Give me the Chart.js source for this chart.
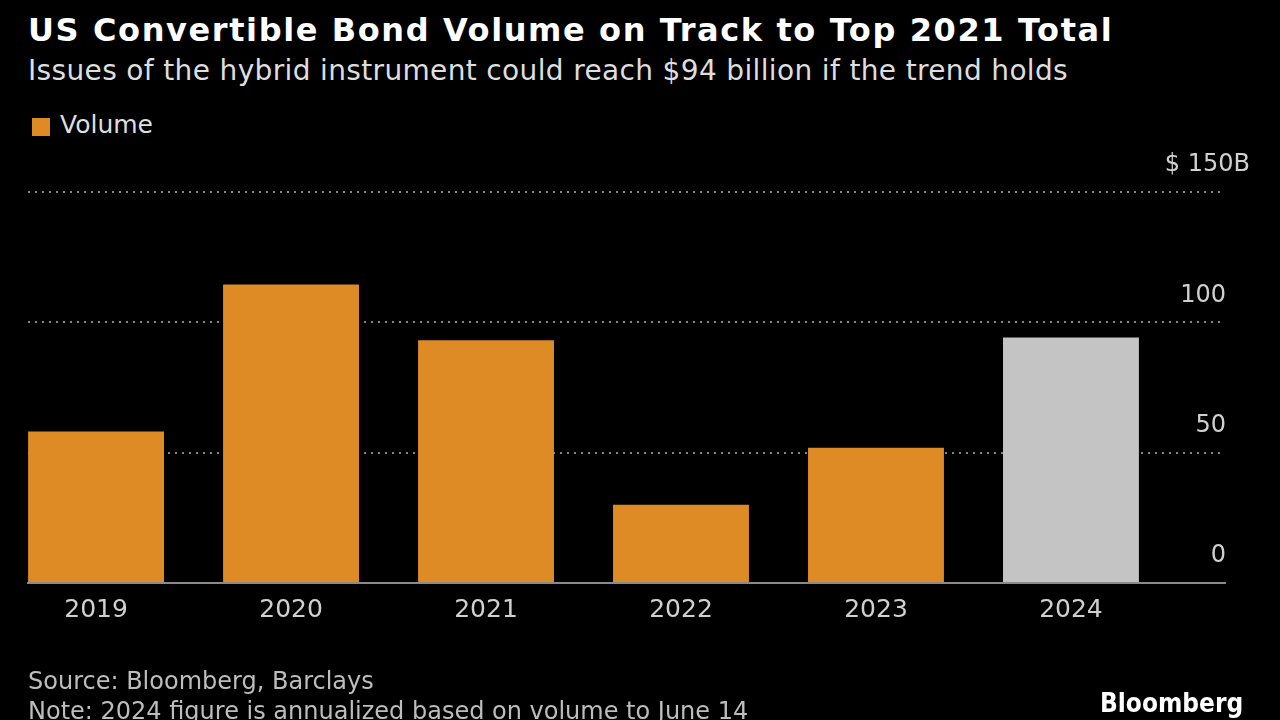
<!DOCTYPE html>
<html>
<head>
<meta charset="utf-8">
<script src="https://cdn.jsdelivr.net/npm/chart.js@4.4.1/dist/chart.umd.min.js"></script>
<style>
  html, body { margin: 0; padding: 0; background: #000; }
  #wrap { position: relative; width: 1280px; height: 720px; overflow: hidden; background: #000;
    font-family: "DejaVu Sans", sans-serif; line-height: 1; }
  #chart { position: absolute; left: 0; top: 0; }
  .title { position: absolute; left: 28px; top: 14px; color: #fff; font-size: 32px; font-weight: bold; letter-spacing: 1.6px; white-space: nowrap; }
  .subtitle { position: absolute; left: 28px; top: 57px; color: #dedede; font-size: 28px; letter-spacing: 0.35px; white-space: nowrap; }
  .legend { position: absolute; left: 60px; top: 112px; color: #dedede; font-size: 25px; white-space: nowrap; }
  .legend-box { position: absolute; left: 32px; top: 118px; width: 18px; height: 18px; background: #DE8B26; }
  .foot { position: absolute; left: 28px; color: #bdbdbd; font-size: 24px; white-space: nowrap; }
  .brand { position: absolute; left: 1100px; top: 690px; color: #fff; font-size: 26px; font-weight: bold;
    font-family: "DejaVu Sans Condensed", "DejaVu Sans", sans-serif; }
</style>
</head>
<body>
<div id="wrap">
  <div class="title">US Convertible Bond Volume on Track to Top 2021 Total</div>
  <div class="subtitle">Issues of the hybrid instrument could reach $94 billion if the trend holds</div>
  <div class="legend-box"></div>
  <div class="legend">Volume</div>
  <canvas id="chart" width="1280" height="720"></canvas>
  <div class="foot" style="top:669px">Source: Bloomberg, Barclays</div>
  <div class="foot" style="top:699px">Note: 2024 figure is annualized based on volume to June 14</div>
  <div class="brand">Bloomberg</div>
</div>
<script>
// values, $ billions
const years = ['2019', '2020', '2021', '2022', '2023', '2024'];
const volumes = [58.1, 114.5, 93.1, 30.0, 51.9, 94.2];
const barColors = ['#DE8B26', '#DE8B26', '#DE8B26', '#DE8B26', '#DE8B26', '#C4C4C4'];
const yTicks = [0, 50, 100, 150];

const FONT = "'DejaVu Sans', sans-serif";

new Chart(document.getElementById('chart'), {
  type: 'bar',
  data: {
    datasets: [{
      label: 'Volume',
      data: volumes.map((v, i) => ({ x: i, y: v })),
      backgroundColor: barColors,
      borderWidth: 0,
      barPercentage: 1,
      categoryPercentage: 0.697
    }]
  },
  options: {
    responsive: false,
    animation: false,
    devicePixelRatio: 1,
    layout: { padding: { left: 28, right: 5, top: 192, bottom: 91 } },
    plugins: {
      legend: { display: false },
      tooltip: { enabled: false }
    },
    scales: {
      x: {
        type: 'linear',
        offset: false,
        min: -0.349,
        max: 5.79,
        grid: { display: false },
        border: { display: true, color: '#8a8a8a', width: 2 },
        afterBuildTicks: (scale) => {
          scale.ticks = years.map((y, i) => ({ value: i }));
        },
        ticks: {
          autoSkip: false,
          maxRotation: 0,
          padding: 4,
          color: '#d0d0d0',
          font: { family: FONT, size: 25 },
          callback: (val) => years[val]
        }
      },
      y: {
        position: 'right',
        min: 0,
        max: 150,
        afterBuildTicks: (scale) => {
          scale.ticks = yTicks.map(v => ({ value: v }));
        },
        grid: {
          drawTicks: false,
          lineWidth: 2,
          color: (ctx) => ctx.tick && ctx.tick.value === 0 ? 'rgba(0,0,0,0)' : '#858585'
        },
        border: { display: false, dash: [2, 5] },
        ticks: {
          mirror: true,
          padding: 25,
          labelOffset: -27,
          color: '#d0d0d0',
          font: { family: FONT, size: 24 },
          callback: (val) => val === 150 ? '$ 150B' : val + '\u2002\u2002'
        }
      }
    }
  }
});
</script>
</body>
</html>
